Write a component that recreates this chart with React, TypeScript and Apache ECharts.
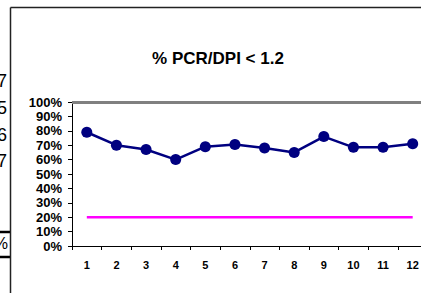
import React, { useEffect, useRef } from "react";
import * as echarts from "echarts";

const categories = ["1", "2", "3", "4", "5", "6", "7", "8", "9", "10", "11", "12"];
const pctValues = [0.79, 0.70, 0.67, 0.60, 0.69, 0.705, 0.68, 0.65, 0.76, 0.685, 0.685, 0.71];
const targetValues = [0.2, 0.2, 0.2, 0.2, 0.2, 0.2, 0.2, 0.2, 0.2, 0.2, 0.2, 0.2];
const topLineValue = 1;
const sideDigits = ["7", "5", "6", "7"];
const sideDigitY = [81, 108, 135, 161];
const titleText = "% PCR/DPI < 1.2";

export default function App() {
  const ref = useRef<HTMLDivElement>(null);
  useEffect(() => {
    document.body.style.overflow = "hidden";
    const chart = echarts.init(ref.current!, null, { renderer: "svg" });
    const font = "Arial, 'Liberation Sans', sans-serif";
    const graphics: any[] = [];
    sideDigits.forEach((d, i) => {
      graphics.push({
        type: "text",
        x: 7,
        y: sideDigitY[i],
        style: { text: d, font: `18px ${font}`, fill: "#000", textAlign: "right", textVerticalAlign: "middle" },
      });
    });
    graphics.push({
      type: "text",
      x: 8,
      y: 243,
      style: { text: "%", font: `16px ${font}`, fill: "#000", textAlign: "right", textVerticalAlign: "middle" },
    });
    graphics.push({ type: "line", shape: { x1: 0, y1: 232, x2: 10, y2: 232 }, style: { stroke: "#000", lineWidth: 2.5 } });
    graphics.push({ type: "line", shape: { x1: 0, y1: 257, x2: 10, y2: 257 }, style: { stroke: "#000", lineWidth: 2.5 } });
    graphics.push({ type: "line", shape: { x1: 10.5, y1: 7.5, x2: 10.5, y2: 293 }, style: { stroke: "#222", lineWidth: 1.5 } });
    graphics.push({ type: "line", shape: { x1: 10.5, y1: 7.5, x2: 440, y2: 7.5 }, style: { stroke: "#222", lineWidth: 1.5 } });

    chart.setOption({
      animation: false,
      backgroundColor: "#fff",
      title: {
        text: titleText,
        left: 213,
        top: 45,
        textAlign: "center",
        textStyle: { fontFamily: font, fontWeight: "bold", fontSize: 17, color: "#000" },
      },
      graphic: graphics,
      grid: { left: 72, top: 102, right: 12.5, bottom: 47 },
      xAxis: {
        type: "category",
        data: categories,
        boundaryGap: true,
        axisLine: { lineStyle: { color: "#000", width: 1 } },
        axisTick: { show: true, length: 4, lineStyle: { color: "#000" } },
        axisLabel: { fontFamily: font, fontWeight: "bold", fontSize: 11, color: "#000", margin: 13, interval: 0 },
      },
      yAxis: {
        type: "value",
        min: 0,
        max: 1,
        interval: 0.1,
        axisLine: { show: true, lineStyle: { color: "#000", width: 1 } },
        axisTick: { show: true, length: 4, lineStyle: { color: "#000" } },
        splitLine: { show: false },
        axisLabel: {
          fontFamily: font,
          fontWeight: "bold",
          fontSize: 13,
          color: "#000",
          margin: 10,
          formatter: (v: number) => Math.round(v * 100) + "%",
        },
      },
      series: [
        {
          type: "line",
          data: targetValues,
          symbol: "none",
          lineStyle: { color: "#FF00FF", width: 2.5 },
          itemStyle: { color: "#FF00FF" },
          z: 2,
          markLine: {
            silent: true,
            symbol: ["none", "none"],
            label: { show: false },
            lineStyle: { color: "#808080", width: 3, type: "solid" },
            data: [{ yAxis: topLineValue }],
          },
        },
        {
          type: "line",
          data: pctValues,
          symbol: "circle",
          symbolSize: 11,
          lineStyle: { color: "#000080", width: 2.5 },
          itemStyle: { color: "#000080" },
          z: 3,
        },
      ],
    });
    return () => chart.dispose();
  }, []);
  return <div ref={ref} style={{ position: "fixed", left: 0, top: 0, width: 440, height: 293 }} />;
}
